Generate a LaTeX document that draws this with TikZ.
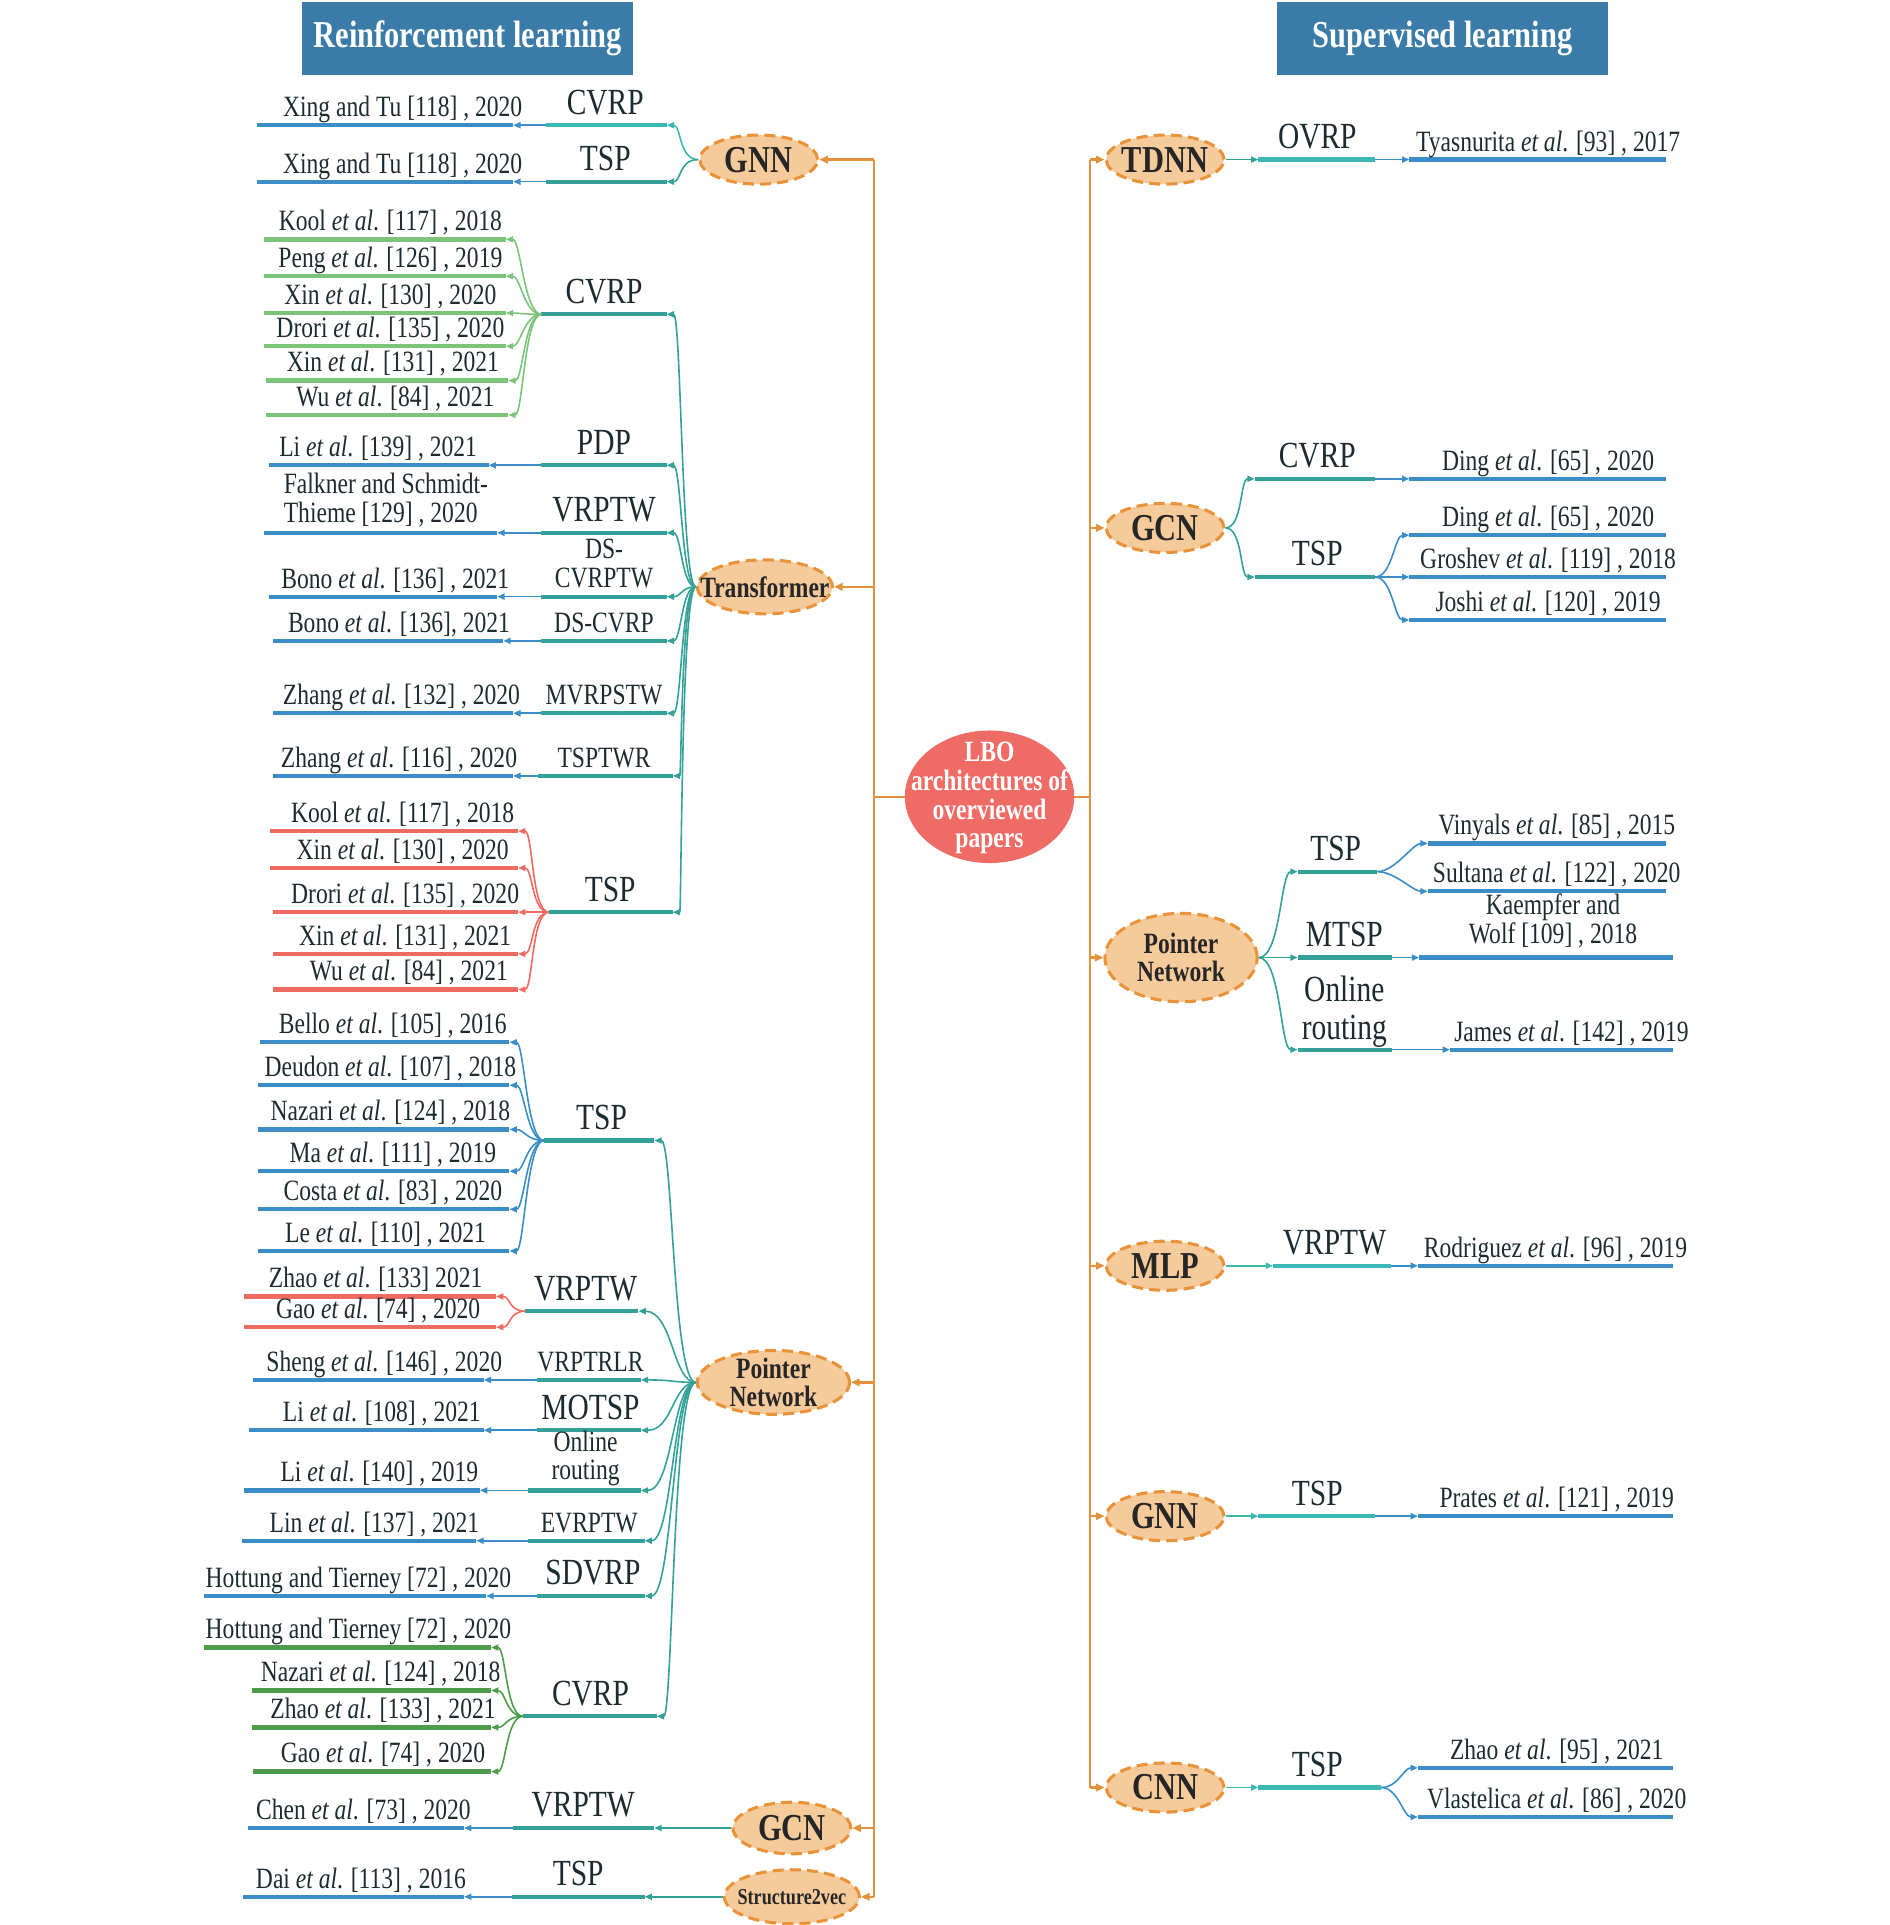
\documentclass[tikz,border=0pt]{standalone}
\usepackage{fontspec}
\setmainfont{Liberation Serif}[FakeStretch=0.8]
\usetikzlibrary{arrows.meta,shapes.geometric}

\definecolor{orng}{HTML}{E3913C}
\definecolor{ofill}{HTML}{F6CB9C}
\definecolor{oborder}{HTML}{E8923A}
\definecolor{tealA}{HTML}{33A197}
\definecolor{tealB}{HTML}{3DB9B3}
\definecolor{bluL}{HTML}{3A8DC6}
\definecolor{grnL}{HTML}{7DC47B}
\definecolor{redL}{HTML}{EE6B62}
\definecolor{grnD}{HTML}{4E9B49}
\definecolor{hdr}{HTML}{3A7BA7}
\definecolor{lbofill}{HTML}{EF6B65}
\definecolor{txt}{HTML}{1C2B31}

\tikzset{
  refT/.style={font=\fontsize{24}{23.5}\selectfont, text=txt, inner sep=0pt, anchor=base},
  bigT/.style={font=\fontsize{30}{31}\selectfont, text=txt, inner sep=0pt, anchor=base},
  thickln/.style={line width=3.5pt},
  con/.style={line width=1.3pt, -{Triangle[length=6pt,width=5pt]}},
  oline/.style={line width=2pt, orng},
  ocon/.style={line width=2pt, orng, -{Triangle[length=7pt,width=6pt]}},
  model/.style={ellipse, draw=oborder, fill=ofill, line width=2.5pt,
    dash pattern=on 9pt off 5pt, inner sep=0pt},
  mlab/.style={font=\bfseries\fontsize{31}{31}\selectfont, text=black!85, inner sep=0pt},
  mlabs/.style={font=\bfseries\fontsize{24}{23}\selectfont, text=black!85, inner sep=0pt, align=center},
  hdrbox/.style={fill=hdr, minimum width=270pt, minimum height=59pt, inner sep=0pt,
    text=white, font=\bfseries\fontsize{31}{31}\selectfont},
}

\newcommand\etal{\textit{et al}.}
\newcommand\Seg[5]{\coordinate (#1a) at (#2,#4);\coordinate (#1b) at (#3,#4);\draw[thickln,#5] (#1a) -- (#1b);}
% name, x1, x2, y, color, text-x, text
\newcommand\RefT[7]{\Seg{#1}{#2}{#3}{#4}{#5}\node[refT] (#1t) at (#6,#4-7) {#7};}
\newcommand\ProbB[7]{\Seg{#1}{#2}{#3}{#4}{#5}\node[bigT] (#1t) at (#6,#4-9) {#7};}
\newcommand\ProbS[7]{\Seg{#1}{#2}{#3}{#4}{#5}\node[refT] (#1t) at (#6,#4-7) {#7};}
% fans
\newcommand\FanL[3]{\draw[con,#3] (#1) .. controls +(-14,0) and +(12,0) .. (#2);}
\newcommand\FanR[3]{\draw[con,#3] (#1) .. controls +(14,0) and +(-12,0) .. (#2);}

\begin{document}
\begin{tikzpicture}[x=1pt,y=-1pt]
\useasboundingbox (0,0) rectangle (1539,1568);

% headers
\node[hdrbox] (hL) at (381,31.5) {Reinforcement learning};
\node[hdrbox] (hR) at (1175,31.5) {Supervised learning};

% trunk coordinates
\coordinate (tL) at (712,0);
\coordinate (tR) at (888,0);
\coordinate (tv) at (555,0);
\coordinate (pv) at (548,0);

% centre
\node[ellipse, fill=lbofill, minimum width=138pt, minimum height=108pt, inner sep=0pt] (lbo) at (806,649) {};
\node[font=\bfseries\fontsize{24}{23.5}\selectfont, text=white, align=center, inner sep=0pt] (lbot) at (806,650) {LBO\\architectures of\\overviewed\\papers};

% model nodes (left)
\node[model, minimum width=96pt, minimum height=40pt] (gnnL) at (618,130) {};
\node[mlab] (gnnLt) at (gnnL) {GNN};
\node[model, minimum width=110pt, minimum height=44pt] (tf) at (623,478) {};
\node[mlabs] (tft) at (tf) {Transformer};
\node[model, minimum width=124pt, minimum height=52pt] (pnL) at (630,1126) {};
\node[mlabs] (pnLt) at (pnL) {Pointer\\Network};
\node[model, minimum width=96pt, minimum height=42pt] (gcnL) at (645,1489) {};
\node[mlab] (gcnLt) at (gcnL) {GCN};
\node[model, minimum width=110pt, minimum height=44pt] (s2v) at (645,1545) {};
\node[font=\bfseries\fontsize{18.5}{18}\selectfont, text=black!85, inner sep=0pt] (s2vt) at (s2v) {Structure2vec};

% model nodes (right)
\node[model, minimum width=96pt, minimum height=40pt] (tdnn) at (949,130) {};
\node[mlab] (tdnnt) at (tdnn) {TDNN};
\node[model, minimum width=96pt, minimum height=40pt] (gcnR) at (949,430) {};
\node[mlab] (gcnRt) at (gcnR) {GCN};
\node[model, minimum width=124pt, minimum height=72pt] (pnR) at (962,780) {};
\node[mlabs] (pnRt) at (pnR) {Pointer\\Network};
\node[model, minimum width=96pt, minimum height=40pt] (mlp) at (949,1031) {};
\node[mlab] (mlpt) at (mlp) {MLP};
\node[model, minimum width=96pt, minimum height=40pt] (gnnR) at (949,1235) {};
\node[mlab] (gnnRt) at (gnnR) {GNN};
\node[model, minimum width=96pt, minimum height=40pt] (cnn) at (949,1456) {};
\node[mlab] (cnnt) at (cnn) {CNN};

% orange trunks
\draw[oline] (gnnL.east -| tL) -- (s2v.east -| tL);
\draw[oline] (tdnn.west -| tR) -- (cnn.west -| tR);
\draw[oline] (lbo.west) -- (lbo.west -| tL);
\draw[oline] (lbo.east) -- (lbo.east -| tR);
\foreach \n in {gnnL,tf,pnL,gcnL,s2v} {\draw[ocon] (\n.east -| tL) -- (\n.east);}
\foreach \n in {tdnn,gcnR,pnR,mlp,gnnR,cnn} {\draw[ocon] (\n.west -| tR) -- (\n.west);}

% ================= LEFT: GNN =================
\ProbB{gA}{445}{543}{102}{tealB}{493}{CVRP}
\ProbB{gB}{445}{543}{148}{tealA}{493}{TSP}
\RefT{gA1}{209}{418}{102}{bluL}{328}{Xing and Tu [118] , 2020}
\RefT{gB1}{209}{418}{148}{bluL}{328}{Xing and Tu [118] , 2020}
\draw[con,tealB] (gnnL.west) .. controls +(-16,0) and +(12,0) .. (gAb);
\draw[con,tealA] (gnnL.west) .. controls +(-16,0) and +(12,0) .. (gBb);
\draw[con,bluL] (gAa) -- (gA1b);
\draw[con,bluL] (gBa) -- (gB1b);

% ================= LEFT: Transformer =================
\ProbB{tA}{441}{543}{256}{tealA}{492}{CVRP}
\ProbB{tB}{441}{543}{379}{tealA}{492}{PDP}
\ProbB{tC}{441}{543}{434}{tealA}{492}{VRPTW}
\Seg{tD}{441}{543}{486}{tealA}
\node[refT, anchor=center, align=center] (tDt) at (492,459) {DS-\\CVRPTW};
\ProbS{tE}{441}{543}{522}{tealA}{492}{DS-CVRP}
\ProbS{tF}{441}{543}{581}{tealA}{492}{MVRPSTW}
\ProbS{tG}{438}{548}{632}{tealA}{492}{TSPTWR}
\ProbB{tH}{447}{548}{743}{tealA}{497}{TSP}

\RefT{tA1}{215}{412}{195}{grnL}{318}{Kool \etal{} [117] , 2018}
\RefT{tA2}{215}{412}{225}{grnL}{318}{Peng \etal{} [126] , 2019}
\RefT{tA3}{215}{412}{255}{grnL}{318}{Xin \etal{} [130] , 2020}
\RefT{tA4}{215}{412}{282}{grnL}{318}{Drori \etal{} [135] , 2020}
\RefT{tA5}{217}{414}{310}{grnL}{320}{Xin \etal{} [131] , 2021}
\RefT{tA6}{217}{414}{338}{grnL}{322}{Wu \etal{} [84] , 2021}
\RefT{tB1}{219}{398}{379}{bluL}{308}{Li \etal{} [139] , 2021}
\Seg{tC1}{215}{405}{434}{bluL}
\node[refT, anchor=west, align=left] (tC1t) at (231,407) {Falkner and Schmidt-\\Thieme [129] , 2020};
\RefT{tD1}{219}{405}{486}{bluL}{322}{Bono \etal{} [136] , 2021}
\RefT{tE1}{222}{410}{522}{bluL}{325}{Bono \etal{} [136], 2021}
\RefT{tF1}{222}{418}{581}{bluL}{327}{Zhang \etal{} [132] , 2020}
\RefT{tG1}{222}{418}{632}{bluL}{325}{Zhang \etal{} [116] , 2020}
\RefT{tH1}{220}{422}{677}{redL}{328}{Kool \etal{} [117] , 2018}
\RefT{tH2}{220}{422}{707}{redL}{328}{Xin \etal{} [130] , 2020}
\RefT{tH3}{222}{422}{743}{redL}{330}{Drori \etal{} [135] , 2020}
\RefT{tH4}{222}{422}{777}{redL}{330}{Xin \etal{} [131] , 2021}
\RefT{tH5}{222}{422}{806}{redL}{333}{Wu \etal{} [84] , 2021}

\foreach \p in {tA,tB,tC,tD,tE,tF,tG,tH}
  {\draw[con,tealA] (tf.west) .. controls (tf.west -| tv) and (\p b -| tv) .. (\p b);}
\foreach \r in {tA1,tA2,tA3,tA4,tA5,tA6} {\FanL{tAa}{\r b}{grnL}}
\foreach \r in {tH1,tH2,tH3,tH4,tH5} {\FanL{tHa}{\r b}{redL}}
\draw[con,bluL] (tBa) -- (tB1b);
\draw[con,bluL] (tCa) -- (tC1b);
\draw[con,bluL] (tDa) -- (tD1b);
\draw[con,bluL] (tEa) -- (tE1b);
\draw[con,bluL] (tFa) -- (tF1b);
\draw[con,bluL] (tGa) -- (tG1b);

% ================= LEFT: Pointer Network =================
\ProbB{pA}{443}{533}{929}{tealA}{490}{TSP}
\ProbB{pB}{428}{520}{1068}{tealA}{477}{VRPTW}
\ProbS{pC}{437}{522}{1124}{tealA}{481}{VRPTRLR}
\ProbB{pD}{437}{522}{1165}{tealA}{481}{MOTSP}
\Seg{pE}{430}{522}{1214}{tealA}
\node[refT, anchor=center, align=center] (pEt) at (477,1188) {Online\\routing};
\ProbS{pF}{430}{525}{1255}{tealA}{480}{EVRPTW}
\ProbB{pG}{437}{525}{1300}{tealA}{483}{SDVRP}
\ProbB{pH}{426}{535}{1398}{tealA}{481}{CVRP}

\RefT{pA1}{212}{415}{849}{bluL}{320}{Bello \etal{} [105] , 2016}
\RefT{pA2}{210}{415}{884}{bluL}{318}{Deudon \etal{} [107] , 2018}
\RefT{pA3}{210}{415}{920}{bluL}{318}{Nazari \etal{} [124] , 2018}
\RefT{pA4}{210}{415}{954}{bluL}{320}{Ma \etal{} [111] , 2019}
\RefT{pA5}{210}{415}{985}{bluL}{320}{Costa \etal{} [83] , 2020}
\RefT{pA6}{210}{415}{1019}{bluL}{314}{Le \etal{} [110] , 2021}
\RefT{pB1}{199}{404}{1056}{redL}{306}{Zhao \etal{} [133] 2021}
\RefT{pB2}{199}{404}{1081}{redL}{308}{Gao \etal{} [74] , 2020}
\RefT{pC1}{206}{394}{1124}{bluL}{313}{Sheng \etal{} [146] , 2020}
\RefT{pD1}{203}{394}{1165}{bluL}{311}{Li \etal{} [108] , 2021}
\RefT{pE1}{199}{391}{1214}{bluL}{309}{Li \etal{} [140] , 2019}
\RefT{pF1}{197}{388}{1255}{bluL}{305}{Lin \etal{} [137] , 2021}
\RefT{pG1}{166}{396}{1300}{bluL}{292}{Hottung and Tierney [72] , 2020}
\RefT{pH1}{166}{400}{1342}{grnD}{292}{Hottung and Tierney [72] , 2020}
\RefT{pH2}{205}{400}{1377}{grnD}{310}{Nazari \etal{} [124] , 2018}
\RefT{pH3}{205}{400}{1407}{grnD}{312}{Zhao \etal{} [133] , 2021}
\RefT{pH4}{206}{400}{1443}{grnD}{312}{Gao \etal{} [74] , 2020}

\foreach \p in {pA,pB,pC,pD,pE,pF,pG,pH}
  {\draw[con,tealA] (pnL.west) .. controls (pnL.west -| pv) and (\p b -| pv) .. (\p b);}
\foreach \r in {pA1,pA2,pA3,pA4,pA5,pA6} {\FanL{pAa}{\r b}{bluL}}
\foreach \r in {pB1,pB2} {\FanL{pBa}{\r b}{redL}}
\foreach \r in {pH1,pH2,pH3,pH4} {\FanL{pHa}{\r b}{grnD}}
\draw[con,bluL] (pCa) -- (pC1b);
\draw[con,bluL] (pDa) -- (pD1b);
\draw[con,bluL] (pEa) -- (pE1b);
\draw[con,bluL] (pFa) -- (pF1b);
\draw[con,bluL] (pGa) -- (pG1b);

% ================= LEFT: GCN, Structure2vec =================
\ProbB{cA}{418}{533}{1489}{tealA}{475}{VRPTW}
\RefT{cA1}{202}{378}{1489}{bluL}{296}{Chen \etal{} [73] , 2020}
\draw[con,tealA] (gcnL.west) -- (cAb);
\draw[con,bluL] (cAa) -- (cA1b);
\ProbB{sA}{417}{525}{1545}{tealA}{471}{TSP}
\RefT{sA1}{198}{378}{1545}{bluL}{294}{Dai \etal{} [113] , 2016}
\draw[con,tealA] (s2v.west) -- (sAb);
\draw[con,bluL] (sAa) -- (sA1b);

% ================= RIGHT =================
% TDNN
\ProbB{RA}{1025}{1120}{130}{tealB}{1073}{OVRP}
\RefT{RA1}{1148}{1357}{130}{bluL}{1261}{Tyasnurita \etal{} [93] , 2017}
\draw[con,tealA] (tdnn.east) -- (RAa);
\draw[con,bluL] (RAb) -- (RA1a);
% GCN
\ProbB{RB}{1022}{1120}{390}{tealA}{1073}{CVRP}
\ProbB{RC}{1022}{1120}{470}{tealA}{1073}{TSP}
\RefT{RB1}{1148}{1357}{390}{bluL}{1261}{Ding \etal{} [65] , 2020}
\RefT{RC1}{1148}{1357}{436}{bluL}{1261}{Ding \etal{} [65] , 2020}
\RefT{RC2}{1148}{1357}{470}{bluL}{1261}{Groshev \etal{} [119] , 2018}
\RefT{RC3}{1148}{1357}{505}{bluL}{1261}{Joshi \etal{} [120] , 2019}
\draw[con,tealA] (gcnR.east) .. controls +(14,0) and +(-12,0) .. (RBa);
\draw[con,tealA] (gcnR.east) .. controls +(14,0) and +(-12,0) .. (RCa);
\draw[con,bluL] (RBb) -- (RB1a);
\foreach \r in {RC1,RC2,RC3} {\FanR{RCb}{\r a}{bluL}}
% Pointer Network
\ProbB{RD}{1057}{1122}{710}{tealA}{1088}{TSP}
\ProbB{RE}{1057}{1134}{780}{tealA}{1095}{MTSP}
\Seg{RF}{1057}{1134}{855}{tealA}
\node[font=\fontsize{30}{31}\selectfont, text=txt, inner sep=0pt, align=center] (RFt) at (1095,824) {Online\\routing};
\RefT{RD1}{1163}{1357}{687}{bluL}{1268}{Vinyals \etal{} [85] , 2015}
\RefT{RD2}{1163}{1357}{726}{bluL}{1268}{Sultana \etal{} [122] , 2020}
\Seg{RE1}{1156}{1363}{780}{bluL}
\node[refT, anchor=center, align=center] (RE1t) at (1265,750) {Kaempfer and\\Wolf [109] , 2018};
\RefT{RF1}{1181}{1363}{855}{bluL}{1280}{James \etal{} [142] , 2019}
\draw[con,tealA] (pnR.east) .. controls +(18,0) and +(-14,0) .. (RDa);
\draw[con,tealA] (pnR.east) -- (REa);
\draw[con,tealA] (pnR.east) .. controls +(18,0) and +(-14,0) .. (RFa);
\foreach \r in {RD1,RD2} {\FanR{RDb}{\r a}{bluL}}
\draw[con,bluL] (REb) -- (RE1a);
\draw[con,bluL] (RFb) -- (RF1a);
% MLP
\ProbB{RG}{1037}{1133}{1031}{tealB}{1087}{VRPTW}
\RefT{RG1}{1155}{1363}{1031}{bluL}{1267}{Rodriguez \etal{} [96] , 2019}
\draw[con,tealB] (mlp.east) -- (RGa);
\draw[con,bluL] (RGb) -- (RG1a);
% GNN
\ProbB{RH}{1025}{1120}{1235}{tealB}{1073}{TSP}
\RefT{RH1}{1155}{1363}{1235}{bluL}{1268}{Prates \etal{} [121] , 2019}
\draw[con,tealB] (gnnR.east) -- (RHa);
\draw[con,bluL] (RHb) -- (RH1a);
% CNN
\ProbB{RI}{1025}{1125}{1456}{tealB}{1073}{TSP}
\RefT{RI1}{1155}{1363}{1440}{bluL}{1268}{Zhao \etal{} [95] , 2021}
\RefT{RI2}{1155}{1363}{1480}{bluL}{1268}{Vlastelica \etal{} [86] , 2020}
\draw[con,tealB] (cnn.east) -- (RIa);
\foreach \r in {RI1,RI2} {\FanR{RIb}{\r a}{bluL}}
\end{tikzpicture}
\end{document}
